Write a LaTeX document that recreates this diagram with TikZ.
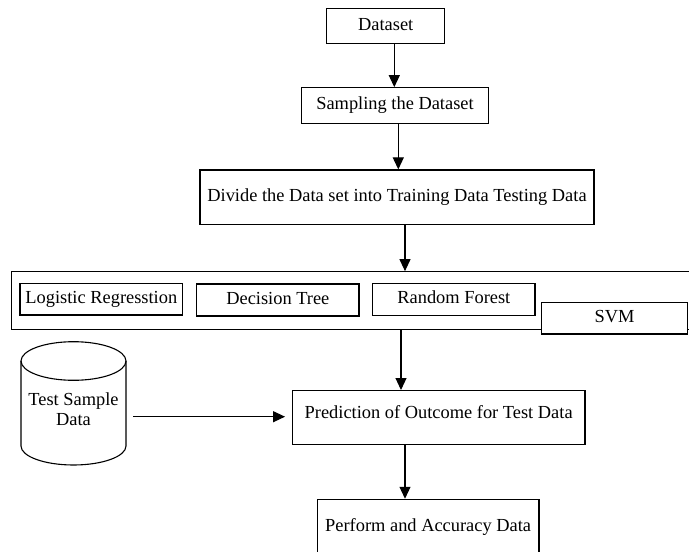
\documentclass[tikz,border=0pt]{standalone}
\usepackage{fontspec}
\setmainfont{Liberation Serif}
\usetikzlibrary{arrows.meta,calc}
\begin{document}
\begin{tikzpicture}[x=1pt,y=-1pt,
  line width=1.1pt,
  txt/.style={font=\fontsize{18.4}{20}\selectfont},
  box/.style={txt, draw, line width=1.1pt, inner sep=0pt, text height=12.5pt, text depth=4pt},
  arr/.style={-{Triangle[width=11pt,length=12pt]}, line width=1.1pt}]
\useasboundingbox (0,0) rectangle (689,552);
% main chain
\node[box, minimum width=118pt, minimum height=35pt] (ds) at (385.7,25.8) {Dataset};
\node[box, minimum width=186.6pt, minimum height=35.6pt] (smp) at (395,105.5) {Sampling the Dataset};
\node[box, minimum width=394pt, minimum height=54.3pt] (div) at (397,197.1) {Divide the Data set into Training Data Testing Data};
% models container
\node[draw, inner sep=0pt, minimum width=688.3pt, minimum height=57.8pt] (models) at (355.85,300.6) {};
\node[box, minimum width=162.7pt, minimum height=31.7pt] (lr) at (101.35,299.15) {Logistic Regresstion};
\node[box, minimum width=162.3pt, minimum height=32pt] (dt) at (277.85,300) {Decision Tree};
\node[box, minimum width=162.3pt, minimum height=32.4pt] (rf) at (453.85,299.5) {Random Forest};
\node[box, fill=white, minimum width=145.6pt, minimum height=31.5pt] (svm) at (614.5,318.25) {SVM};
% prediction and result
\node[box, anchor=north, minimum width=292.7pt, text height=27.7pt, text depth=25.8pt] (pred) at (438.65,390) {Prediction of Outcome for Test Data};
\node[box, minimum width=221.7pt, minimum height=55.7pt] (perf) at (428.15,527.15) {Perform and Accuracy Data};
% cylinder
\draw (21,361) -- (21,446) arc[start angle=180, end angle=360, x radius=52.5pt, y radius=19pt] -- (126,361);
\draw (73.5,361) ellipse [x radius=52.5pt, y radius=19.3pt];
\node[txt, align=center, inner sep=0pt] (tsd) at (73.5,409) {Test Sample\\Data};
% connectors
\coordinate (x1) at (394.3,0);
\coordinate (x2) at (398.3,0);
\coordinate (x3) at (405,0);
\coordinate (x4) at (401,0);
\coordinate (x5) at (405,0);
\coordinate (tsstart) at (133,416.7);
\draw[arr] (ds.south -| x1) -- (smp.north -| x1);
\draw[arr] (smp.south -| x2) -- (div.north -| x2);
\draw[arr] (div.south -| x3) -- (models.north -| x3);
\draw[arr] (models.south -| x4) -- (pred.north -| x4);
\draw[arr] (pred.south -| x5) -- (perf.north -| x5);
\draw[arr, shorten >=6.7pt] (tsstart) -- (pred.west |- tsstart);
\end{tikzpicture}
\end{document}
